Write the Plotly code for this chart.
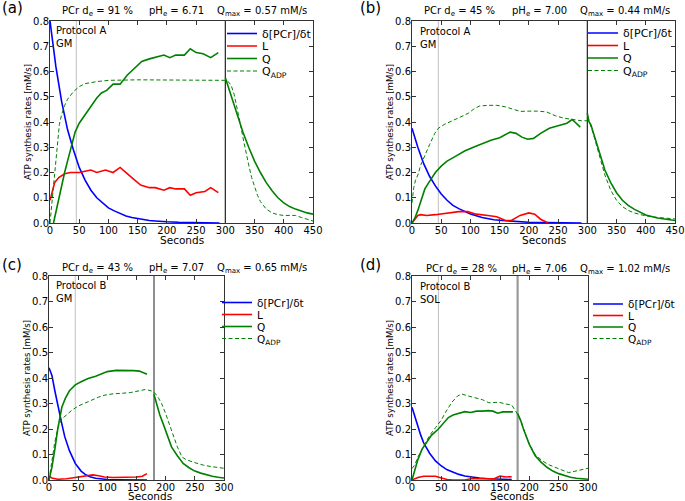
import plotly.graph_objects as go

# ---------------- DATA ----------------
# Panel (a)  Protocol A, GM
a_pcr_t = [0, 10, 20, 30, 40, 50, 60, 70, 80, 90, 100, 110, 120, 130, 140, 150, 160, 170, 180, 190, 200, 220, 240, 260, 290]
a_pcr = [0.80, 0.62, 0.48, 0.37, 0.29, 0.22, 0.17, 0.13, 0.10, 0.08, 0.06, 0.048, 0.037, 0.028, 0.022, 0.017, 0.013, 0.010, 0.008, 0.006, 0.005, 0.003, 0.002, 0.001, 0.0]
a_L_t = [0, 8, 15, 25, 35, 50, 60, 70, 80, 95, 108, 120, 135, 155, 170, 180, 195, 205, 215, 230, 240, 250, 265, 275, 288]
a_L = [0.09, 0.16, 0.18, 0.195, 0.20, 0.20, 0.205, 0.21, 0.20, 0.21, 0.20, 0.22, 0.19, 0.15, 0.14, 0.14, 0.13, 0.14, 0.135, 0.135, 0.11, 0.12, 0.125, 0.14, 0.12]
a_Q_ex_t = [6, 10, 15, 20, 25, 30, 37, 43, 50, 60, 70, 80, 88, 97, 108, 120, 132, 145, 157, 170, 185, 195, 205, 215, 230, 240, 250, 262, 275, 288]
a_Q_ex = [0.0, 0.045, 0.1, 0.15, 0.2, 0.245, 0.31, 0.36, 0.395, 0.43, 0.465, 0.495, 0.515, 0.525, 0.55, 0.55, 0.585, 0.615, 0.64, 0.65, 0.66, 0.665, 0.655, 0.665, 0.665, 0.69, 0.675, 0.67, 0.655, 0.675]
a_Q_rec_t = [300, 310, 320, 330, 340, 350, 360, 370, 380, 390, 400, 410, 420, 430, 440, 450]
a_Q_rec = [0.575, 0.50, 0.43, 0.36, 0.30, 0.245, 0.20, 0.16, 0.128, 0.10, 0.08, 0.065, 0.055, 0.047, 0.04, 0.035]
a_qadp_t = [0, 4, 8, 12, 16, 20, 25, 30, 40, 50, 60, 80, 100, 150, 200, 250, 300, 305, 310, 315, 320, 325, 330, 335, 340, 345, 350, 355, 360, 370, 380, 390, 400, 410, 420, 430, 440, 450]
a_qadp = [0.0, 0.1, 0.22, 0.32, 0.39, 0.43, 0.465, 0.49, 0.52, 0.54, 0.552, 0.56, 0.565, 0.567, 0.567, 0.566, 0.565, 0.56, 0.545, 0.51, 0.46, 0.40, 0.34, 0.28, 0.23, 0.18, 0.14, 0.11, 0.085, 0.055, 0.04, 0.033, 0.03, 0.03, 0.03, 0.022, 0.015, 0.008]

# Panel (b)  Protocol A, GM
b_pcr_t = [0, 10, 20, 30, 40, 50, 60, 70, 80, 90, 100, 120, 140, 160, 180, 200, 230, 260, 290]
b_pcr = [0.375, 0.30, 0.235, 0.185, 0.147, 0.115, 0.09, 0.07, 0.057, 0.045, 0.036, 0.022, 0.013, 0.009, 0.005, 0.003, 0.002, 0.001, 0.0]
b_L_t = [0, 10, 15, 25, 40, 60, 80, 95, 110, 130, 145, 160, 170, 185, 200, 210, 220, 233]
b_L = [0.0, 0.03, 0.033, 0.03, 0.033, 0.04, 0.045, 0.045, 0.035, 0.03, 0.025, 0.01, 0.01, 0.03, 0.04, 0.035, 0.015, 0.0]
b_Q_ex_t = [0, 5, 10, 15, 22, 30, 40, 50, 60, 75, 90, 105, 120, 135, 150, 160, 168, 178, 188, 198, 208, 220, 235, 250, 265, 274, 288]
b_Q_ex = [0.0, 0.02, 0.05, 0.085, 0.135, 0.165, 0.2, 0.225, 0.245, 0.265, 0.285, 0.30, 0.315, 0.328, 0.338, 0.35, 0.36, 0.355, 0.34, 0.332, 0.335, 0.355, 0.375, 0.385, 0.395, 0.41, 0.38]
b_Q_rec_t = [300, 303, 306, 310, 320, 330, 340, 350, 360, 370, 380, 390, 400, 420, 440, 450]
b_Q_rec = [0.435, 0.40, 0.39, 0.36, 0.285, 0.21, 0.16, 0.12, 0.09, 0.07, 0.055, 0.042, 0.032, 0.02, 0.013, 0.01]
b_qadp_t = [0, 3, 6, 10, 15, 22, 30, 39, 45, 55, 65, 80, 96, 105, 115, 130, 145, 160, 175, 185, 200, 215, 230, 245, 260, 275, 290, 300, 305, 310, 320, 330, 340, 350, 360, 370, 380, 390, 400, 420, 440, 450]
b_qadp = [0.08, 0.14, 0.17, 0.19, 0.23, 0.27, 0.31, 0.355, 0.375, 0.39, 0.40, 0.415, 0.434, 0.45, 0.463, 0.466, 0.466, 0.46, 0.45, 0.442, 0.443, 0.443, 0.44, 0.425, 0.415, 0.41, 0.405, 0.405, 0.39, 0.355, 0.27, 0.19, 0.13, 0.09, 0.065, 0.05, 0.04, 0.033, 0.028, 0.022, 0.018, 0.016]

# Panel (c)  Protocol B, GM
c_pcr_t = [0, 5, 10, 16, 22, 27, 35, 45, 55, 62, 70, 80, 90, 100, 120, 168]
c_pcr = [0.44, 0.41, 0.35, 0.28, 0.22, 0.17, 0.115, 0.065, 0.035, 0.022, 0.013, 0.007, 0.004, 0.002, 0.001, 0.0]
c_L_t = [0, 5, 15, 30, 45, 55, 65, 75, 85, 95, 110, 130, 150, 160, 168]
c_L = [0.015, 0.008, 0.003, 0.005, 0.01, 0.013, 0.018, 0.02, 0.017, 0.012, 0.01, 0.01, 0.012, 0.015, 0.025]
c_Q_ex_t = [0, 5, 10, 15, 22, 28, 35, 45, 55, 67, 80, 90, 100, 115, 130, 145, 155, 162, 168]
c_Q_ex = [0.0, 0.05, 0.12, 0.2, 0.285, 0.32, 0.35, 0.373, 0.385, 0.398, 0.407, 0.415, 0.425, 0.43, 0.43, 0.429, 0.427, 0.42, 0.415]
c_Q_rec_t = [180, 185, 190, 195, 200, 210, 220, 230, 240, 250, 260, 270, 280, 290, 300]
c_Q_rec = [0.335, 0.29, 0.255, 0.225, 0.195, 0.13, 0.095, 0.065, 0.048, 0.035, 0.027, 0.02, 0.015, 0.011, 0.008]
c_qadp_t = [0, 5, 10, 16, 22, 30, 40, 50, 60, 73, 85, 96, 110, 125, 140, 155, 165, 175, 182, 188, 193, 200, 210, 220, 228, 235, 250, 265, 280, 300]
c_qadp = [0.0, 0.08, 0.15, 0.21, 0.24, 0.255, 0.275, 0.29, 0.30, 0.314, 0.325, 0.333, 0.338, 0.34, 0.343, 0.35, 0.355, 0.35, 0.34, 0.32, 0.30, 0.26, 0.196, 0.13, 0.09, 0.08, 0.068, 0.058, 0.052, 0.046]

# Panel (d)  Protocol B, SOL
d_pcr_t = [0, 5, 10, 15, 20, 25, 30, 40, 50, 60, 70, 80, 90, 100, 115, 130, 150, 170]
d_pcr = [0.285, 0.245, 0.21, 0.175, 0.145, 0.125, 0.105, 0.075, 0.055, 0.04, 0.03, 0.022, 0.016, 0.012, 0.008, 0.005, 0.003, 0.002]
d_L_t = [0, 10, 20, 30, 40, 50, 60, 70, 90, 100, 115, 130, 140, 150, 160, 170]
d_L = [0.0, 0.01, 0.015, 0.015, 0.015, 0.008, 0.002, 0.0, 0.0, 0.005, 0.005, 0.003, 0.005, 0.015, 0.012, 0.013]
d_Q_ex_t = [0, 5, 10, 17, 25, 33, 45, 55, 62, 70, 80, 90, 100, 110, 120, 130, 138, 146, 155, 165, 172]
d_Q_ex = [0.0, 0.04, 0.08, 0.12, 0.15, 0.175, 0.2, 0.225, 0.245, 0.255, 0.262, 0.268, 0.265, 0.27, 0.27, 0.272, 0.27, 0.262, 0.267, 0.268, 0.267]
d_Q_rec_t = [180, 185, 190, 195, 200, 210, 220, 230, 240, 250, 260, 270, 280, 290, 300]
d_Q_rec = [0.26, 0.235, 0.20, 0.17, 0.14, 0.095, 0.07, 0.05, 0.035, 0.025, 0.017, 0.011, 0.007, 0.004, 0.003]
d_qadp_t = [0, 5, 10, 20, 30, 40, 50, 57, 68, 78, 85, 95, 108, 120, 131, 140, 148, 160, 170, 180, 186, 193, 200, 210, 222, 235, 250, 260, 267, 280, 290, 300]
d_qadp = [0.045, 0.06, 0.09, 0.135, 0.175, 0.205, 0.235, 0.265, 0.305, 0.33, 0.337, 0.33, 0.323, 0.315, 0.303, 0.305, 0.305, 0.298, 0.294, 0.258, 0.23, 0.18, 0.14, 0.1, 0.075, 0.058, 0.046, 0.035, 0.029, 0.035, 0.042, 0.046]

panel_labels = ["(a)", "(b)", "(c)", "(d)"]
pcr_de = ["91 %", "45 %", "43 %", "28 %"]
ph_e = ["6.71", "7.00", "7.07", "7.06"]
q_max = ["0.57 mM/s", "0.44 mM/s", "0.65 mM/s", "1.02 mM/s"]
protocols = ["Protocol A", "Protocol A", "Protocol B", "Protocol B"]
muscles = ["GM", "GM", "GM", "SOL"]
x_max = [450, 450, 300, 300]
x_ticks = [list(range(0, 451, 50)), list(range(0, 451, 50)), list(range(0, 301, 50)), list(range(0, 301, 50))]
y_ticks = [0.0, 0.1, 0.2, 0.3, 0.4, 0.5, 0.6, 0.7, 0.8]
exercise_mark = 45
recovery_start = [300, 300, 180, 180]
series_names = ["δ[PCr]/δt", "L", "Q", "Q<sub>ADP</sub>"]
x_title = "Seconds"
y_title = "ATP synthesis rates [mM/s]"

panels = [
    (a_pcr_t, a_pcr, a_L_t, a_L, a_Q_ex_t, a_Q_ex, a_Q_rec_t, a_Q_rec, a_qadp_t, a_qadp),
    (b_pcr_t, b_pcr, b_L_t, b_L, b_Q_ex_t, b_Q_ex, b_Q_rec_t, b_Q_rec, b_qadp_t, b_qadp),
    (c_pcr_t, c_pcr, c_L_t, c_L, c_Q_ex_t, c_Q_ex, c_Q_rec_t, c_Q_rec, c_qadp_t, c_qadp),
    (d_pcr_t, d_pcr, d_L_t, d_L, d_Q_ex_t, d_Q_ex, d_Q_rec_t, d_Q_rec, d_qadp_t, d_qadp),
]

# ---------------- LAYOUT GEOMETRY (pixels) ----------------
W, H = 685, 501
FONT = "DejaVu Sans"
plot_boxes = [(50, 313, 21, 223), (412, 675, 21, 223), (49, 224, 276, 480), (412, 588, 276, 480)]
legend_x = [222, 583, 217, 588]
legend_rows = [[33.5, 46, 58.5, 71], [33, 45.5, 58, 70.5], [302.5, 314.5, 326.5, 338.5], [304, 315.5, 327, 338.5]]
legend_font = [11, 11, 10.5, 10.5]
label_pos = [(0, 8), (358, 8), (0, 265), (358, 265)]
title_pos = [((60, 146.5, 215), 12), ((422, 510, 578), 12), ((60, 146.5, 215), 268.5), ((423.5, 509.5, 578), 269)]
proto_pos = [(54, 23), (418, 24), (54, 278), (418, 279)]
xtitle_pos = [(181.5, 240), (543.5, 240), (150, 496), (512, 496)]
rec_line_style = [("#222222", 1.2), ("#222222", 1.2), ("#6a6a6a", 1.5), ("#9a9a9a", 2.2)]

colors = ["#0000ff", "#ff0000", "#008000", "#008000"]


def px(x):
    return x / W


def py(y):
    return 1 - y / H


fig = go.Figure()
layout = dict(
    width=W, height=H,
    margin=dict(l=0, r=0, t=0, b=0),
    paper_bgcolor="white", plot_bgcolor="white",
    font=dict(family=FONT, size=10, color="black"),
    showlegend=True,
)
annotations = []
shapes = []
leg_idx = 0

for k, data in enumerate(panels):
    pt, pv, lt, lv, qet, qev, qrt, qrv, adt, adv = data
    xa = "x" if k == 0 else f"x{k + 1}"
    ya = "y" if k == 0 else f"y{k + 1}"
    q_t = list(qet) + [None] + list(qrt)
    q_v = list(qev) + [None] + list(qrv)
    series = [(pt, pv), (lt, lv), (q_t, q_v), (adt, adv)]
    for s, (tt, vv) in enumerate(series):
        leg_idx += 1
        lname = "legend" if leg_idx == 1 else f"legend{leg_idx}"
        if s == 3:
            line = dict(color=colors[s], width=1, dash="4px,2.5px")
        else:
            line = dict(color=colors[s], width=1.6)
        fig.add_trace(go.Scatter(
            x=tt, y=vv, mode="lines", name=series_names[s], line=line,
            xaxis=xa, yaxis=ya, legend=lname, connectgaps=False,
        ))
        layout[lname] = dict(
            x=px(legend_x[k]), xanchor="left",
            y=py(legend_rows[k][s]), yanchor="middle",
            bgcolor="rgba(0,0,0,0)", borderwidth=0,
            font=dict(family=FONT, size=legend_font[k], color="black"),
            itemclick=False, itemdoubleclick=False,
        )

    x0, x1, y0, y1 = plot_boxes[k]
    axis_common = dict(
        showline=True, linecolor="#333333", linewidth=1, mirror="ticks",
        ticks="inside", ticklen=4, tickcolor="#333333", tickwidth=1,
        showgrid=False, zeroline=False,
        tickfont=dict(family=FONT, size=10, color="black"),
        automargin=False, ticklabelstandoff=-2,
    )
    xkey = "xaxis" if k == 0 else f"xaxis{k + 1}"
    ykey = "yaxis" if k == 0 else f"yaxis{k + 1}"
    layout[xkey] = dict(
        axis_common, domain=[px(x0), px(x1)], anchor=ya,
        range=[0, x_max[k]], tickvals=x_ticks[k],
    )
    layout[ykey] = dict(
        axis_common, domain=[py(y1), py(y0)], anchor=xa,
        range=[0, 0.8], tickvals=y_ticks, tickformat=".1f",
        title=dict(text=y_title, font=dict(family=FONT, size=8.6), standoff=0),
    )

    # vertical markers
    shapes.append(dict(type="line", xref=xa, yref=f"{ya} domain", x0=exercise_mark, x1=exercise_mark,
                       y0=0, y1=1, line=dict(color="#c0c0c0", width=1), layer="below"))
    rc, rw = rec_line_style[k]
    shapes.append(dict(type="line", xref=xa, yref=f"{ya} domain", x0=recovery_start[k], x1=recovery_start[k],
                       y0=0, y1=1, line=dict(color=rc, width=rw), layer="below"))

    # x axis title
    sx, sy = xtitle_pos[k]
    annotations.append(dict(text=x_title, xref="paper", yref="paper", x=px(sx), y=py(sy),
                            xanchor="center", yanchor="middle", showarrow=False,
                            font=dict(family=FONT, size=10.5, color="black")))
    # panel label
    lx, ly = label_pos[k]
    annotations.append(dict(text=panel_labels[k], xref="paper", yref="paper", x=px(lx), y=py(ly),
                            xanchor="left", yanchor="middle", showarrow=False,
                            font=dict(family=FONT, size=15, color="black")))
    # title pieces
    (tx1, tx2, tx3), ty = title_pos[k]
    pieces = [f"PCr d<sub>e</sub> = {pcr_de[k]}", f"pH<sub>e</sub> = {ph_e[k]}", f"Q<sub>max</sub> = {q_max[k]}"]
    for txx, tex in zip((tx1, tx2, tx3), pieces):
        annotations.append(dict(text=tex, xref="paper", yref="paper", x=px(txx), y=py(ty),
                                xanchor="left", yanchor="middle", showarrow=False,
                                font=dict(family=FONT, size=10, color="black")))
    # protocol text
    ppx, ppy = proto_pos[k]
    annotations.append(dict(text=f"{protocols[k]}<br>{muscles[k]}", xref="paper", yref="paper",
                            x=px(ppx), y=py(ppy), xanchor="left", yanchor="top", align="left",
                            showarrow=False, font=dict(family=FONT, size=10, color="black")))

layout["annotations"] = annotations
layout["shapes"] = shapes
fig.update_layout(**layout)
fig.write_html(
    "out.html",
    config={"displayModeBar": False},
    post_script="document.body.style.margin='0px';document.body.style.padding='0px';document.body.style.overflow='hidden';",
)
